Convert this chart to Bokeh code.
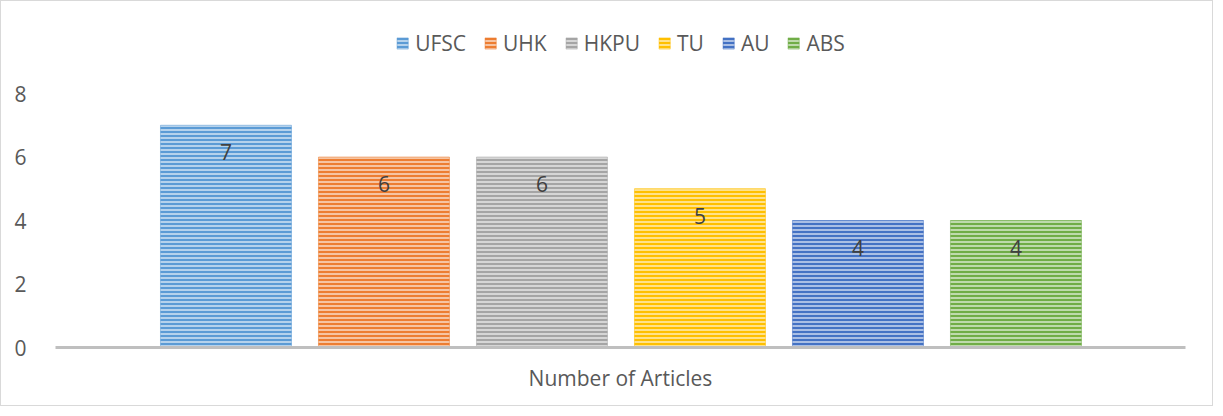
from bokeh.plotting import figure
from bokeh.models import Range1d, FixedTicker, ColumnDataSource
from bokeh.core.properties import value
from bokeh.embed import file_html
from bokeh.resources import INLINE

# ---- data ----
category = "Number of Articles"
series = ["UFSC", "UHK", "HKPU", "TU", "AU", "ABS"]
counts = [7, 6, 6, 5, 4, 4]
y_ticks = [0, 2, 4, 6, 8]

# ---- styles ----
colors = ["#5B9BD5", "#ED7D31", "#A5A5A5", "#FFC000", "#4472C4", "#70AD47"]


def lighten(hex_color, f=0.55):
    h = hex_color.lstrip("#")
    r, g, b = (int(h[i:i + 2], 16) for i in (0, 2, 4))
    r, g, b = (int(c + (255 - c) * f) for c in (r, g, b))
    return "#%02X%02X%02X" % (r, g, b)


lights = [lighten(c) for c in colors]
FONT = "Open Sans"
TXT = "#595959"
FS = "21px"

src = ColumnDataSource(dict(
    x=list(range(len(series))),
    top=counts,
    series=series,
    label=[str(v) for v in counts],
    color=colors,
    light=lights,
))

p = figure(width=1213, height=406, output_backend="svg", toolbar_location=None,
           x_range=Range1d(-1.079, 6.073), y_range=Range1d(0, 10.52),
           min_border_left=54, min_border_right=29, min_border_top=12,
           min_border_bottom=60)
p.styles = {"border": "1px solid #D9D9D9"}
p.outline_line_color = None
p.xgrid.visible = False
p.ygrid.visible = False

p.vbar(x="x", top="top", width=0.829, source=src, fill_color="light",
       hatch_pattern="horizontal_line", hatch_color="color", hatch_scale=4,
       hatch_weight=2, line_color="color", line_alpha=0.5, line_width=1,
       legend_field="series")

p.text(x="x", y="top", text="label", source=src, y_offset=27,
       text_align="center", text_baseline="middle",
       text_font=value(FONT), text_font_size=FS, text_color="#404040")

# y axis
p.yaxis.ticker = FixedTicker(ticks=y_ticks)
p.yaxis.axis_line_color = None
p.yaxis.major_tick_line_color = None
p.yaxis.minor_tick_line_color = None
p.yaxis.major_label_standoff = 23
p.yaxis.major_label_text_font = FONT
p.yaxis.major_label_text_font_size = FS
p.yaxis.major_label_text_color = TXT

# x axis
p.xaxis.ticker = FixedTicker(ticks=[])
p.xaxis.axis_line_color = "#BFBFBF"
p.xaxis.axis_line_width = 3
p.xaxis.major_tick_line_color = None
p.xaxis.minor_tick_line_color = None
p.xaxis.axis_label = category
p.xaxis.axis_label_standoff = 16
p.xaxis.axis_label_text_font = FONT
p.xaxis.axis_label_text_font_size = FS
p.xaxis.axis_label_text_font_style = "normal"
p.xaxis.axis_label_text_color = TXT

# legend
lg = p.legend[0]
lg.location = "top_center"
lg.orientation = "horizontal"
lg.margin = 16
lg.padding = 0
lg.spacing = 17
lg.glyph_width = 14
lg.glyph_height = 14
lg.label_standoff = 6
lg.label_height = 22
lg.label_text_font = FONT
lg.label_text_font_size = FS
lg.label_text_color = TXT
lg.background_fill_alpha = 0
lg.border_line_color = None

open("out.html", "w").write(file_html(p, INLINE))
